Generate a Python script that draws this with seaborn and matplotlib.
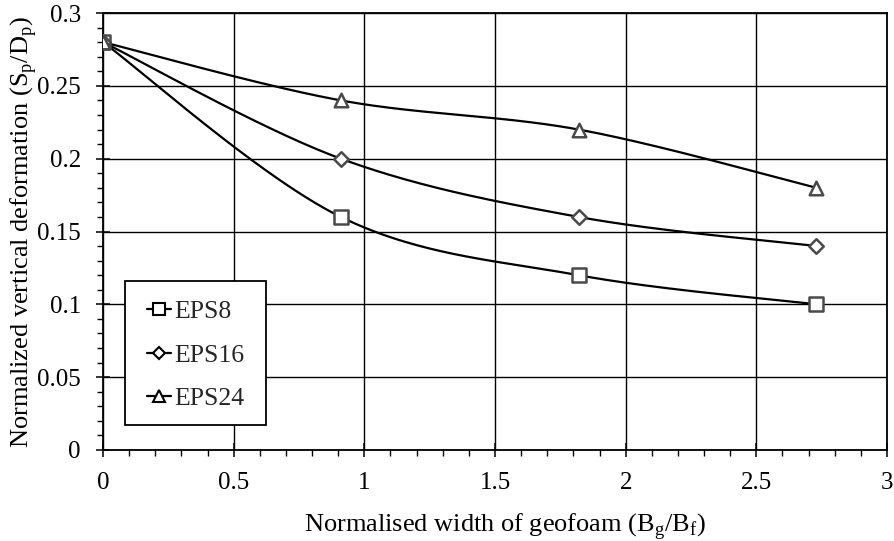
import numpy as np
import pandas as pd
import matplotlib
matplotlib.use("Agg")
import matplotlib.pyplot as plt
from matplotlib.lines import Line2D
from matplotlib.patches import Rectangle
from matplotlib.ticker import MultipleLocator, FuncFormatter
import seaborn as sns

# Normalised geofoam width and deformation for each geofoam density
width_ratio = [0.0, 0.91, 1.82, 2.73]
eps8 = [0.28, 0.16, 0.12, 0.10]
eps16 = [0.28, 0.20, 0.16, 0.14]
eps24 = [0.28, 0.24, 0.22, 0.18]
series_names = ["EPS8", "EPS16", "EPS24"]
series_markers = ["s", "D", "^"]
x_ticks = [0, 0.5, 1, 1.5, 2, 2.5, 3]
y_ticks = [0, 0.05, 0.1, 0.15, 0.2, 0.25, 0.3]


def smooth_curve(xs, ys, n=60):
    """Smoothed line through the points (Bezier segments with 1/6 tangents)."""
    pts = np.column_stack([xs, ys]).astype(float)
    out = []
    for i in range(len(pts) - 1):
        p0 = pts[i - 1] if i > 0 else pts[i]
        p1 = pts[i]
        p2 = pts[i + 1]
        p3 = pts[i + 2] if i + 2 < len(pts) else pts[i + 1]
        c1 = p1 + (p2 - p0) / 6.0
        c2 = p2 - (p3 - p1) / 6.0
        t = np.linspace(0, 1, n)[:, None]
        seg = ((1 - t) ** 3) * p1 + 3 * ((1 - t) ** 2) * t * c1 \
            + 3 * (1 - t) * t ** 2 * c2 + t ** 3 * p2
        out.append(seg if i == 0 else seg[1:])
    return np.vstack(out)


sns.set_theme(style="white")
plt.rcParams["font.family"] = ["Liberation Serif", "DejaVu Serif"]
plt.rcParams["mathtext.fontset"] = "custom"
plt.rcParams["mathtext.rm"] = "Liberation Serif"

W, H = 895, 541
fig = plt.figure(figsize=(W / 100, H / 100), dpi=100)
ax_l, ax_r, ax_t, ax_b = 103, 887, 13, 450
ax = fig.add_axes([ax_l / W, 1 - ax_b / H, (ax_r - ax_l) / W, (ax_b - ax_t) / H])
to_ax_x = lambda px: (px - ax_l) / (ax_r - ax_l)
to_ax_y = lambda py: (ax_b - py) / (ax_b - ax_t)

curves = []
points = []
for name, vals in zip(series_names, [eps8, eps16, eps24]):
    c = smooth_curve(width_ratio, vals)
    curves.append(pd.DataFrame({"x": c[:, 0], "y": c[:, 1], "series": name}))
    points.append(pd.DataFrame({"x": width_ratio, "y": vals, "series": name}))
curve_df = pd.concat(curves, ignore_index=True)
point_df = pd.concat(points, ignore_index=True)

sns.lineplot(data=curve_df, x="x", y="y", units="series", estimator=None, sort=False,
             color="black", linewidth=1.6, ax=ax, legend=False, zorder=3)

marker_sizes = {"s": 110, "D": 55, "^": 95}
for name, mk in zip(series_names, series_markers):
    sub = point_df[point_df["series"] == name]
    sns.scatterplot(data=sub, x="x", y="y", marker=mk, s=marker_sizes[mk], facecolor="white",
                    edgecolor="#4a4a4a", linewidth=1.8, ax=ax, legend=False, zorder=4)

ax.set_xlim(0, 3)
ax.set_ylim(0, 0.3)
ax.set_xticks(x_ticks)
ax.set_yticks(y_ticks)
ax.xaxis.set_minor_locator(MultipleLocator(0.1))
ax.yaxis.set_minor_locator(MultipleLocator(0.01))
fmt = FuncFormatter(lambda v, p: f"{v:g}")
ax.xaxis.set_major_formatter(fmt)
ax.yaxis.set_major_formatter(fmt)
ax.grid(True, which="major", color="black", linewidth=1.0)
ax.set_axisbelow(True)
for sp in ax.spines.values():
    sp.set_color("black")
    sp.set_linewidth(1.3)
ax.tick_params(which="major", direction="inout", length=10, width=1.1, color="black",
               labelsize=18, labelcolor="black", bottom=True, left=True)
ax.tick_params(axis="x", which="major", pad=11)
ax.tick_params(axis="y", which="major", pad=11)
ax.tick_params(which="minor", direction="out", length=4, width=1.0, color="black",
               bottom=True, left=True)

ax.set_xlabel("Normalised width of geofoam (B$_\\mathregular{g}$/B$_\\mathregular{f}$)",
              fontsize=19, color="black", va="baseline")
ax.set_ylabel("Normalized vertical deformation (S$_\\mathregular{p}$/D$_\\mathregular{p}$)",
              fontsize=19, color="black", va="baseline")
ax.xaxis.set_label_coords(to_ax_x(505), to_ax_y(532))
ax.yaxis.set_label_coords(to_ax_x(28.5), 0.5)

# legend box drawn as its own frame, entries centred inside it
box_l, box_r, box_t, box_b = 125, 266, 281, 425
ax.add_patch(Rectangle((to_ax_x(box_l), to_ax_y(box_b)),
                       to_ax_x(box_r) - to_ax_x(box_l), to_ax_y(box_t) - to_ax_y(box_b),
                       transform=ax.transAxes, facecolor="white", edgecolor="black",
                       linewidth=1.3, zorder=5))

legend_sizes = {"s": 9, "D": 6.5, "^": 8.5}
handles = []
for name, mk in zip(series_names, series_markers):
    handles.append(Line2D([0], [0], color="black", linewidth=1.6, marker=mk,
                          markersize=legend_sizes[mk], markerfacecolor="white",
                          markeredgecolor="black", markeredgewidth=1.5))
leg = ax.legend(handles, series_names, loc="center",
                bbox_to_anchor=((to_ax_x(box_l) + to_ax_x(box_r)) / 2,
                                (to_ax_y(box_t) + to_ax_y(box_b)) / 2 - 0.005),
                frameon=False, fontsize=18.5, handlelength=0.95, handletextpad=0.12,
                labelspacing=0.8, borderpad=0, borderaxespad=0)
leg.set_zorder(6)

fig.savefig("out.png", dpi=100)
